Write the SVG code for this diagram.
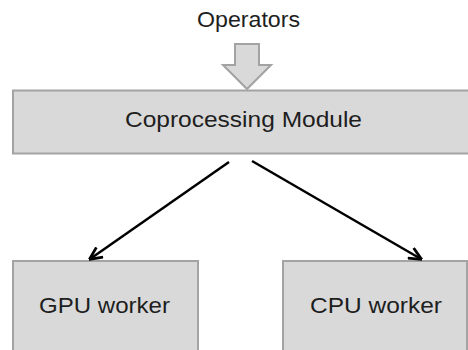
<svg xmlns="http://www.w3.org/2000/svg" width="468" height="350" viewBox="0 0 468 350">
<style>
.box{fill:#d9d9d9;stroke:#a3a3a3;stroke-width:2}
.lbl{font-family:"Liberation Sans",Arial,sans-serif;font-size:22px;fill:#1e1e1e}
.conn{stroke:#000;stroke-width:2.5;fill:none;marker-end:url(#ah)}
</style>
<defs>
<marker id="ah" markerWidth="14" markerHeight="14" refX="9" refY="5" orient="auto" markerUnits="userSpaceOnUse" viewBox="0 0 10 10">
<path d="M0.5,0.8 L9.5,5 L0.5,9.2" fill="none" stroke="#000" stroke-width="2"/>
</marker>
</defs>
<g id="operators">
<text class="lbl" x="197" y="27" textLength="103" lengthAdjust="spacingAndGlyphs">Operators</text>
<path class="box" d="M235,44 H259 V65 H271 L247,89 L223,65 H235 Z"/>
</g>
<g id="coprocessing">
<rect class="box" x="13" y="90.5" width="470" height="63"/>
<text class="lbl" x="125" y="127" textLength="237" lengthAdjust="spacingAndGlyphs">Coprocessing Module</text>
</g>
<g id="gpu">
<rect class="box" x="13" y="261" width="185" height="100"/>
<text class="lbl" x="39" y="313" textLength="131" lengthAdjust="spacingAndGlyphs">GPU worker</text>
</g>
<g id="cpu">
<rect class="box" x="283" y="261" width="184" height="100"/>
<text class="lbl" x="310" y="313" textLength="132" lengthAdjust="spacingAndGlyphs">CPU worker</text>
</g>
<g id="connectors">
<line class="conn" x1="229" y1="162" x2="90" y2="259"/>
<line class="conn" x1="252" y1="161" x2="421" y2="259"/>
</g>
</svg>
